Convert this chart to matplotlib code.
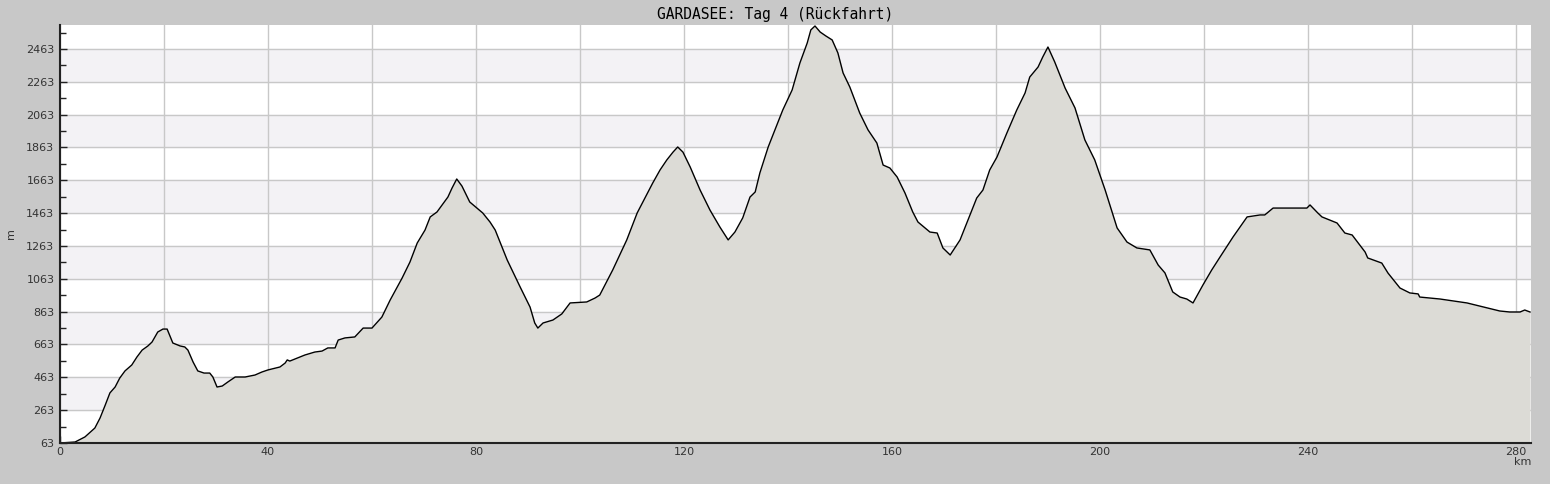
import numpy as np
import matplotlib
matplotlib.use("Agg")
import matplotlib.pyplot as plt
from matplotlib.ticker import FixedLocator, FuncFormatter

# Elevation profile (km, m)
dist_km = [0.0, 2.9, 4.8, 6.7, 7.7, 8.7, 9.6, 10.6, 11.5, 12.5, 13.8, 14.8, 15.8, 16.9,
           17.7, 18.8, 19.8, 20.6, 21.7, 23.1, 24.0, 24.6, 25.6, 26.5, 27.7, 28.8, 29.4,
           30.2, 31.2, 32.3, 33.7, 35.6, 37.5, 38.8, 40.0, 42.3, 43.3, 43.7, 44.2, 47.1,
           49.0, 50.4, 51.5, 52.9, 53.5, 54.8, 56.7, 58.3, 60.0, 61.9, 63.5, 65.8, 67.3,
           68.7, 70.2, 71.2, 72.5, 73.5, 74.6, 75.4, 76.3, 77.3, 78.8, 81.3, 82.7, 83.7,
           86.0, 88.5, 90.4, 91.3, 91.9, 92.9, 94.8, 96.5, 98.1, 101.3, 102.9, 103.8,
           106.3, 109.0, 111.0, 112.5, 114.0, 115.4, 116.7, 117.9, 118.8, 119.8, 121.2,
           123.1, 125.0, 126.9, 128.5, 129.8, 131.3, 132.7, 133.7, 134.6, 136.2, 137.5,
           139.0, 140.8, 142.3, 143.7, 144.4, 145.2, 146.2, 147.3, 148.5, 149.6, 150.6,
           151.9, 153.8, 155.4, 157.1, 158.3, 159.6, 161.0, 162.5, 164.0, 165.0, 167.3,
           168.7, 169.8, 171.2, 173.1, 175.0, 176.3, 177.5, 178.8, 180.2, 182.1, 184.0,
           185.6, 186.5, 188.1, 189.0, 190.0, 191.3, 193.3, 195.2, 197.1, 199.0, 201.0,
           201.9, 203.3, 205.2, 207.1, 209.6, 211.2, 212.5, 214.0, 215.4, 216.7, 217.9,
           219.8, 221.5, 223.1, 225.6, 228.3, 230.8, 231.7, 233.3, 239.8, 240.4, 241.9,
           242.7, 245.6, 247.1, 248.5, 251.0, 251.5, 254.2, 255.4, 257.7, 259.6, 261.2,
           261.5, 265.4, 270.6, 276.9, 278.8, 280.8, 281.7, 282.7]
elev_m = [63, 69, 100, 154, 215, 294, 368, 404, 459, 502, 538, 587, 629, 654,
          678, 739, 757, 757, 672, 654, 648, 629, 556, 502, 489, 489, 465,
          404, 410, 435, 465, 465, 477, 495, 508, 526, 550, 569, 562, 599,
          617, 623, 642, 642, 690, 703, 709, 763, 763, 830, 934, 1068, 1165,
          1281, 1360, 1440, 1470, 1513, 1561, 1616, 1671, 1628, 1531, 1464, 1409, 1360,
          1178, 1013, 891, 794, 763, 794, 812, 849, 916, 922, 946, 964,
          1117, 1300, 1464, 1555, 1647, 1726, 1787, 1835, 1866, 1835, 1744,
          1604, 1482, 1379, 1300, 1348, 1434, 1561, 1592, 1708, 1866, 1970,
          2091, 2213, 2378, 2499, 2579, 2603, 2566, 2542, 2518, 2439, 2317,
          2231, 2073, 1970, 1890, 1756, 1738, 1683, 1586, 1470, 1409, 1348,
          1342, 1251, 1208, 1300, 1452, 1555, 1604, 1726, 1805, 1951, 2091,
          2195, 2292, 2353, 2414, 2475, 2384, 2225, 2104, 1909, 1787, 1604,
          1513, 1373, 1287, 1251, 1239, 1147, 1099, 983, 952, 940, 916,
          1025, 1117, 1196, 1318, 1440, 1452, 1452, 1494, 1494, 1513, 1464,
          1440, 1403, 1342, 1330, 1226, 1190, 1159, 1098, 1007, 977, 971,
          952, 940, 916, 867, 861, 861, 873, 861]

y_ticks = [63, 263, 463, 663, 863, 1063, 1263, 1463, 1663, 1863, 2063, 2263, 2463]
x_labels = [0, 40, 80, 120, 160, 200, 240, 280]
title = "GARDASEE: Tag 4 (Rückfahrt)"

dist = np.array(dist_km)
elev = np.array(elev_m)

fig = plt.figure(figsize=(15.5, 4.84), dpi=100, facecolor="#c8c8c8")
ax = fig.add_axes([60 / 1550, 41 / 484, 1471 / 1550, 418 / 484])
ax.set_facecolor("white")

ax.set_xlim(0, 282.9)
ax.set_ylim(63, 2609)

# alternating bands
for lo, hi in zip(y_ticks[1::2], y_ticks[2::2]):
    ax.axhspan(lo, hi, color="#f3f2f5", zorder=0)

ax.fill_between(dist, 63, elev, color="#dcdbd6", zorder=2, lw=0)
ax.plot(dist, elev, color="black", lw=1.0, zorder=3)

# ticks
ax.yaxis.set_major_locator(FixedLocator(y_ticks))
ax.yaxis.set_minor_locator(FixedLocator([t + 100 for t in y_ticks]))
ax.xaxis.set_major_locator(FixedLocator(np.arange(0, 283, 20)))
ax.xaxis.set_minor_locator(FixedLocator(np.arange(10, 283, 20)))
ax.xaxis.set_major_formatter(FuncFormatter(lambda v, p: f"{int(v)}" if int(v) in x_labels else ""))

ax.grid(True, which="major", color="#c8c8c8", lw=1, zorder=1)
ax.set_axisbelow(True)

ax.tick_params(which="both", direction="in", color="#222222", labelsize=8, labelcolor="#333333")
ax.tick_params(which="major", length=5, width=1)
ax.tick_params(which="minor", length=4, width=1)
ax.tick_params(axis="x", pad=3)
ax.tick_params(axis="y", pad=4)

for s in ["top", "right"]:
    ax.spines[s].set_visible(False)
for s in ["left", "bottom"]:
    ax.spines[s].set_color("#222222")
    ax.spines[s].set_linewidth(1.5)
    ax.spines[s].set_zorder(5)

ax.set_xlabel("km", loc="right", fontsize=8, color="#333333", labelpad=0)
fig.text(11 / 1550, 1 - 234 / 484, "m", rotation=90, ha="center", va="center",
         fontsize=8, color="#333333")

fig.text(0.5, 1 - 14 / 484, title, ha="center", va="center",
         family="DejaVu Sans Mono", fontsize=10.5, color="black")

fig.savefig("out.png", dpi=100, facecolor=fig.get_facecolor())
